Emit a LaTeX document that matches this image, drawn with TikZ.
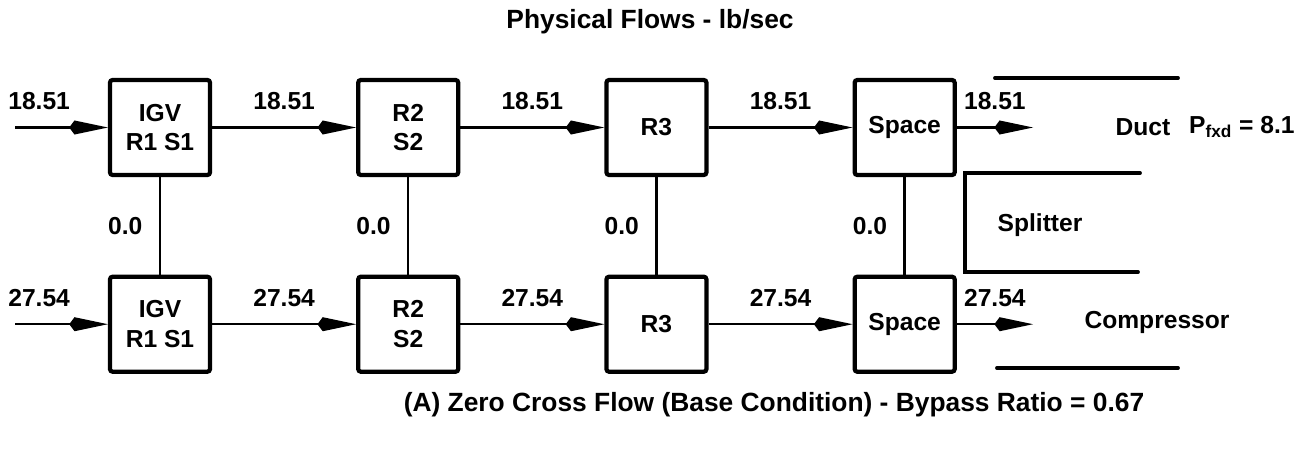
\documentclass[tikz,border=0pt]{standalone}
\usepackage{fontspec}
\setmainfont{Liberation Sans}
\usetikzlibrary{arrows.meta,positioning}

\begin{document}
\begin{tikzpicture}[
    font=\fontsize{14}{17}\selectfont\bfseries,
    stage/.style={draw, line width=2.4pt, rounded corners=1.5pt, minimum width=2cm,
      minimum height=1.9cm, align=center, inner sep=2pt},
    flow/.style={line width=1.4pt, -{Kite[length=22pt,width=8pt,inset=3pt]}},
    link/.style={line width=1.4pt},
    wall/.style={line width=2.2pt, line cap=round},
    lbl/.style={above=6pt}
  ]
  % Page size
  \useasboundingbox (0,0) rectangle (26.04,9);
  % Title
  \node[font=\fontsize{15}{18}\selectfont\bfseries] (title) at (13.0,8.56) {Physical Flows - lb/sec};
  % Duct side row
  \node[stage] (igvA) at (3.2,6.45) {IGV\\R1 S1};
  \node[stage, right=2.88cm of igvA] (rsA) {R2\\S2};
  \node[stage, right=2.88cm of rsA] (rtA) {R3};
  \node[stage, right=2.88cm of rtA] (spA) {Space};
  % Compressor side row
  \node[stage, below=1.95cm of igvA] (igvB) {IGV\\R1 S1};
  \node[stage, below=1.95cm of rsA] (rsB) {R2\\S2};
  \node[stage, below=1.95cm of rtA] (rtB) {R3};
  \node[stage, below=1.95cm of spA] (spB) {Space};
  % Free ends of the flows
  \coordinate (inA) at (0.3,6.45);
  \coordinate (inB) at (inA |- igvB);
  \coordinate (outA) at (20.66,6.45);
  \coordinate (outB) at (outA |- spB);
  % Flows, duct side
  \draw[flow] (inA) -- node[lbl, pos=0.26] {18.51} (igvA);
  \draw[flow] (igvA) -- node[lbl] {18.51} (rsA);
  \draw[flow] (rsA) -- node[lbl] {18.51} (rtA);
  \draw[flow] (rtA) -- node[lbl] {18.51} (spA);
  \draw[flow] (spA) -- node[lbl] {18.51} (outA);
  % Flows, compressor side
  \draw[flow] (inB) -- node[lbl, pos=0.26] {27.54} (igvB);
  \draw[flow] (igvB) -- node[lbl] {27.54} (rsB);
  \draw[flow] (rsB) -- node[lbl] {27.54} (rtB);
  \draw[flow] (rtB) -- node[lbl] {27.54} (spB);
  \draw[flow] (spB) -- node[lbl] {27.54} (outB);
  % Cross flows
  \draw[link] (igvA) -- node[left=6pt] {0.0} (igvB);
  \draw[link] (rsA) -- node[left=6pt] {0.0} (rsB);
  \draw[link] (rtA) -- node[left=6pt] {0.0} (rtB);
  \draw[link] (spA) -- node[left=6pt] {0.0} (spB);
  % Duct walls and splitter
  \draw[wall] (19.9,7.44) -- (23.56,7.44);
  \draw[wall] (22.8,5.54) -- (19.3,5.54) -- (19.3,3.56) -- (22.76,3.56);
  \draw[wall] (19.94,1.64) -- (23.56,1.64);
  \node (split) at (20.8,4.5) {Splitter};
  \node (duct) at (22.86,6.46) {Duct};
  \node[anchor=west] (pfxd) at (23.66,6.46) {P\textsubscript{fxd} = 8.1};
  \node (comp) at (23.14,2.56) {Compressor};
  % Caption
  \node[font=\fontsize{15}{18}\selectfont\bfseries] (cap) at (15.48,0.9) {(A) Zero Cross Flow (Base Condition) - Bypass Ratio = 0.67};
\end{tikzpicture}
\end{document}
